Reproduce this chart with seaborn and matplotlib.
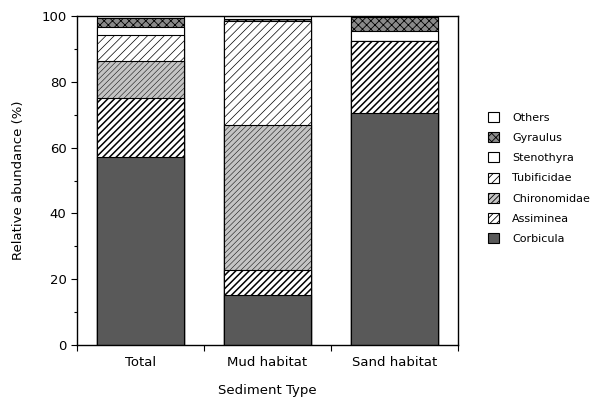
import matplotlib
matplotlib.use("Agg")
import matplotlib.pyplot as plt
import matplotlib.patches as mpatches
import numpy as np
import pandas as pd
import seaborn as sns

# sediment types and relative abundance (%) of each taxon, bottom to top
sites = ["Total", "Mud habitat", "Sand habitat"]
taxa = ["Corbicula", "Assiminea", "Chironomidae", "Tubificidae", "Stenothyra", "Gyraulus", "Others"]
corbicula = [57.2, 15.2, 70.5]
assiminea = [18.0, 7.6, 22.0]
chironomidae = [11.1, 44.1, 0.0]
tubificidae = [7.9, 31.7, 0.0]
stenothyra = [2.5, 0.0, 3.0]
gyraulus = [2.8, 0.4, 4.2]
others = [0.5, 1.0, 0.3]

# fill style per taxon: facecolor, hatch, hatch linewidth
styles = {
    "Corbicula": ("#595959", "", 0.5),
    "Assiminea": ("white", "/////", 1.1),
    "Chironomidae": ("#c4c4c4", "//////", 0.35),
    "Tubificidae": ("white", "////", 0.5),
    "Stenothyra": ("white", "", 0.5),
    "Gyraulus": ("#8a8a8a", "xxxx", 0.6),
    "Others": ("white", "", 0.5),
}

sns.set_style("ticks")
plt.rcParams['font.family'] = ['DejaVu Sans']
plt.rcParams['hatch.linewidth'] = 0.6
plt.rcParams['text.color'] = 'black'
plt.rcParams['axes.labelcolor'] = 'black'
plt.rcParams['xtick.color'] = 'black'
plt.rcParams['ytick.color'] = 'black'
plt.rcParams['axes.edgecolor'] = 'black'

df = pd.DataFrame({"site": sites, "Corbicula": corbicula, "Assiminea": assiminea,
                   "Chironomidae": chironomidae, "Tubificidae": tubificidae,
                   "Stenothyra": stenothyra, "Gyraulus": gyraulus, "Others": others})
cum = df[taxa].cumsum(axis=1)
cum["site"] = df["site"]

fig = plt.figure(figsize=(5.9, 4.0), dpi=100)
ax = fig.add_axes([0.1305, 0.1375, 0.6455, 0.8225])

# draw cumulative layers from the top down so each one covers the next
for taxon in reversed(taxa):
    face, hatch, hlw = styles[taxon]
    n0 = len(ax.patches)
    sns.barplot(data=cum, x="site", y=taxon, color=face, saturation=1, width=0.69,
                edgecolor="black", linewidth=0.8, ax=ax, errorbar=None)
    for p in ax.patches[n0:]:
        p.set_facecolor(face)
        if hatch:
            p.set_hatch(hatch)
            if hasattr(p, "set_hatch_linewidth"):
                p.set_hatch_linewidth(hlw)

ax.set_xlim(-0.5, 2.5)
ax.set_ylim(0, 100)
ax.set_yticks(np.arange(0, 101, 20))
ax.set_yticks(np.arange(0, 101, 10), minor=True)
ax.set_xticks([0, 1, 2])
ax.set_xticklabels(sites)
ax.set_xticks([-0.5, 0.5, 1.5, 2.5], minor=True)
ax.tick_params(axis="x", which="major", length=0, labelsize=9.5, pad=8)
ax.tick_params(axis="x", which="minor", length=4, width=0.8)
ax.tick_params(axis="y", which="major", length=4, width=0.8, labelsize=9.5)
ax.tick_params(axis="y", which="minor", length=2.5, width=0.8)
for s in ax.spines.values():
    s.set_linewidth(1.0)
    s.set_visible(True)

ax.set_xlabel("Sediment Type", fontsize=9.5, labelpad=11)
ax.set_ylabel("Relative abundance (%)", fontsize=9.5, labelpad=12)

handles = []
for taxon in reversed(taxa):
    face, hatch, hlw = styles[taxon]
    h = mpatches.Patch(facecolor=face, edgecolor="black", hatch=hatch, linewidth=0.8, label=taxon)
    handles.append(h)
leg = fig.legend(handles=handles, loc="upper left", bbox_to_anchor=(0.81, 0.745),
                 frameon=False, fontsize=8, handlelength=1.0, handleheight=1.0,
                 handletextpad=1.2, labelspacing=0.85)

fig.savefig("out.png", dpi=100)
